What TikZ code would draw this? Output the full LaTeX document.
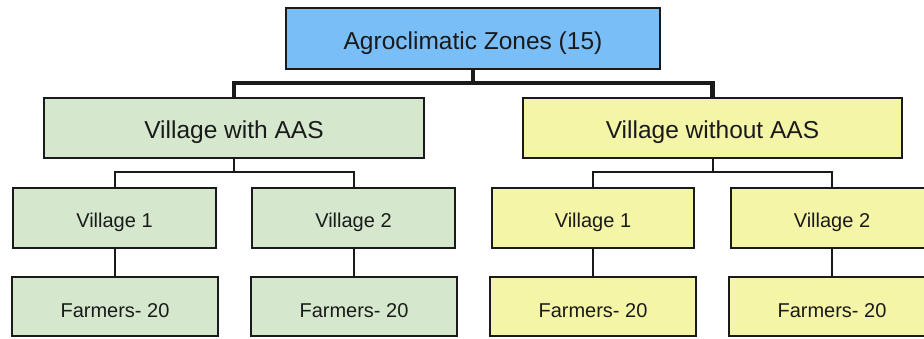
\documentclass[tikz,border=0pt]{standalone}
\usepackage{fontspec}
\setmainfont{Liberation Sans}
\definecolor{zoneblue}{RGB}{122,190,248}
\definecolor{aasgreen}{RGB}{213,232,206}
\definecolor{noyellow}{RGB}{245,245,168}
\definecolor{inkc}{RGB}{26,26,26}
\tikzset{
  box/.style={draw=inkc, line width=2.4pt, rectangle, inner sep=0pt, anchor=center, text=inkc, text depth=0pt},
  topbox/.style={box, fill=zoneblue, minimum width=374pt, minimum height=61pt, text height=21pt, font=\fontsize{24.5}{28}\selectfont},
  midbox/.style={box, minimum width=380pt, minimum height=60pt, text height=20pt, font=\fontsize{24.5}{28}\selectfont},
  smallbox/.style={box, minimum width=203pt, minimum height=60pt, text height=19pt, font=\fontsize{20}{24}\selectfont},
  farmbox/.style={box, minimum width=206pt, minimum height=59pt, text height=21pt, font=\fontsize{20}{24}\selectfont},
  thickline/.style={draw=inkc, line width=4.4pt},
  thinline/.style={draw=inkc, line width=2pt}
}
\begin{document}
\begin{tikzpicture}[x=1pt, y=-1pt]
\useasboundingbox (0,0) rectangle (924,338);
\fill[white] (0,0) rectangle (924,338);
\clip (0,0) rectangle (924,338);

% connector junctions
\coordinate (jTop) at (473,83);
\coordinate (jA) at (234,172);
\coordinate (jB) at (712.5,172);

% top
\node[topbox] (top) at (473,38.5) {Agroclimatic Zones (15)};

% middle
\node[midbox, fill=aasgreen] (gw) at (234,128) {Village with AAS};
\node[midbox, fill=noyellow, minimum width=379pt] (gwo) at (712.5,128) {Village without AAS};

% villages
\node[smallbox, fill=aasgreen] (v1a) at (114.5,218) {Village 1};
\node[smallbox, fill=aasgreen] (v2a) at (353.5,218) {Village 2};
\node[smallbox, fill=noyellow, minimum width=202pt] (v1b) at (593,218) {Village 1};
\node[smallbox, fill=noyellow, minimum width=202pt] (v2b) at (832,218) {Village 2};

% farmers
\node[farmbox, fill=aasgreen] (f1a) at (115,306.5) {Farmers- 20};
\node[farmbox, fill=aasgreen] (f2a) at (354,306.5) {Farmers- 20};
\node[farmbox, fill=noyellow] (f1b) at (593,306.5) {Farmers- 20};
\node[farmbox, fill=noyellow] (f2b) at (832,306.5) {Farmers- 20};

% thick connectors
\draw[thickline] (top.south) -- (jTop);
\draw[thickline] (gw.north) |- (jTop) -| (gwo.north);

% thin connectors
\draw[thinline] (gw.south) -- (jA);
\draw[thinline] (v1a.north) |- (jA) -| (v2a.north);
\draw[thinline] (gwo.south) -- (jB);
\draw[thinline] (v1b.north) |- (jB) -| (v2b.north);

\draw[thinline] (v1a.south) -- (v1a.south |- f1a.north);
\draw[thinline] (v2a.south) -- (v2a.south |- f2a.north);
\draw[thinline] (v1b.south) -- (v1b.south |- f1b.north);
\draw[thinline] (v2b.south) -- (v2b.south |- f2b.north);
\end{tikzpicture}
\end{document}
